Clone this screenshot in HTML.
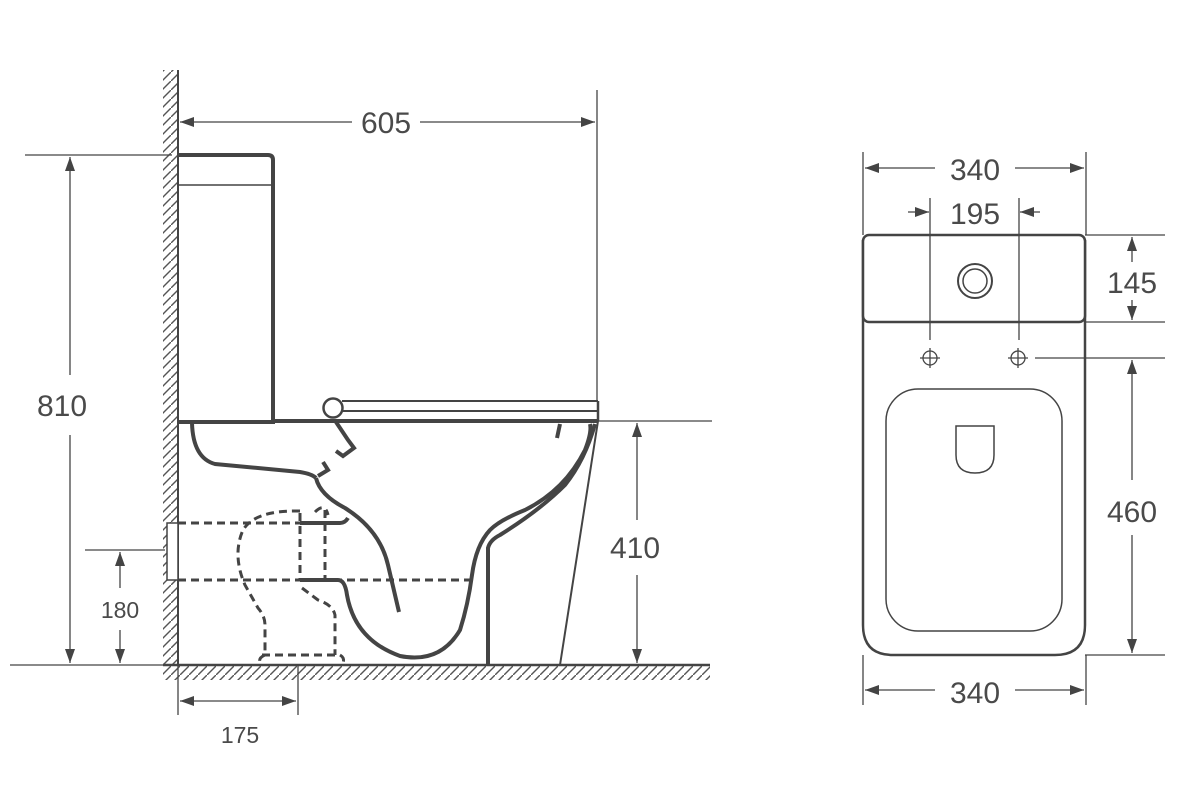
<!DOCTYPE html>
<html><head><meta charset="utf-8"><style>
html,body{margin:0;padding:0;background:#fff;}
svg{display:block;}
text{font-family:"Liberation Sans",sans-serif;fill:#4a4a4a;}
</style></head><body>
<svg width="1200" height="800" viewBox="0 0 1200 800" xmlns="http://www.w3.org/2000/svg">
<defs>
<pattern id="hatch" width="9" height="9" patternUnits="userSpaceOnUse">
<path d="M-1,10 L10,-1" stroke="#555" stroke-width="1.4"/>
</pattern>
<marker id="ar" viewBox="0 0 14 10" refX="14" refY="5" markerWidth="14" markerHeight="10" orient="auto" markerUnits="userSpaceOnUse">
<path d="M0,0 L14,5 L0,10 z" fill="#444"/>
</marker>
<marker id="al" viewBox="0 0 14 10" refX="0" refY="5" markerWidth="14" markerHeight="10" orient="auto" markerUnits="userSpaceOnUse">
<path d="M14,0 L0,5 L14,10 z" fill="#444"/>
</marker>
</defs>
<g stroke="#444" fill="none">
<!-- wall & floor hatch -->
<rect x="163" y="70" width="14" height="595" fill="url(#hatch)" stroke="none"/>
<rect x="163" y="665" width="547" height="15" fill="url(#hatch)" stroke="none"/>
<line x1="178" y1="70" x2="178" y2="665" stroke-width="2"/>
<line x1="163" y1="665" x2="710" y2="665" stroke-width="2.5"/>
<!-- pipe stub in wall -->
<rect x="167" y="523" width="11" height="57" fill="#fff" stroke-width="1.5"/>

<!-- tank -->
<path d="M178,155 L268,155 Q273,155 273,160 L273,422" stroke-width="4"/>
<line x1="178" y1="185" x2="272" y2="185" stroke-width="1.5"/>
<line x1="178" y1="422" x2="275" y2="422" stroke-width="4"/>
<!-- bowl rim line -->
<line x1="275" y1="421" x2="598" y2="421" stroke-width="4"/>
<line x1="598" y1="421" x2="712" y2="421" stroke-width="1.3"/>
<!-- seat -->
<circle cx="333" cy="408" r="9.5" stroke-width="2.5"/>
<line x1="342" y1="401" x2="598" y2="401" stroke-width="2"/>
<line x1="342" y1="411" x2="598" y2="411" stroke-width="2"/>
<line x1="598" y1="401" x2="598" y2="421" stroke-width="2.5"/>
<!-- hinge hook -->
<path d="M336,422 L348,440 L354,448 L343,456 L336,451" stroke-width="4"/>
<path d="M323,462 L328,470 L318,476" stroke-width="4"/>
<!-- connector tank to bowl -->
<path d="M192,423 Q193,458 215,464 L300,472 Q312,474 316,478" stroke-width="4"/>
<!-- flush channel -->
<path d="M316,478 Q320,495 345,508 Q380,530 388,565 L399,612" stroke-width="4"/>
<!-- trap -->
<path d="M300,580 L338,580 Q345,580 347,595 Q355,640 400,656 Q440,664 460,630 Q468,605 472,575 Q476,545 490,530 Q500,520 525,510 Q565,490 585,450 Q592,432 590,424" stroke-width="4"/>
<!-- second inner line & foot -->
<path d="M488,665 L488,548 Q490,540 500,535 Q540,510 565,485 Q585,460 595,424" stroke-width="4"/>
<path d="M560,424 L557,438" stroke-width="4"/>
<!-- right outer -->
<line x1="598" y1="421" x2="560" y2="665" stroke-width="2"/>
<!-- pipe in bowl top piece -->
<path d="M300,523 L340,523 Q345,523 348,518" stroke-width="4"/>

<!-- dashed hidden lines -->
<g stroke-dasharray="8,5" stroke-width="3">
<line x1="178" y1="523" x2="300" y2="523"/>
<line x1="178" y1="580" x2="470" y2="580"/>
<path d="M300,511 Q255,510 243,530 Q232,555 245,585 L258,608 Q265,616 265,625 L265,655 Q258,658 260,663"/>
<path d="M262,655 L340,655 Q345,658 343,663"/>
<path d="M300,513 L300,580 M325,510 L325,580"/>
<path d="M315,512 Q325,502 328,515"/>
<path d="M302,588 L318,600 Q333,605 335,615 L335,655"/>
</g>

<!-- dimension lines left view -->
<g stroke-width="1.3">
<line x1="597" y1="90" x2="597" y2="401"/>
<line x1="180" y1="122" x2="352" y2="122" marker-start="url(#al)"/>
<line x1="420" y1="122" x2="595" y2="122" marker-end="url(#ar)"/>
<line x1="25" y1="155" x2="172" y2="155"/>
<line x1="70" y1="157" x2="70" y2="375" marker-start="url(#al)"/>
<line x1="70" y1="435" x2="70" y2="663" marker-end="url(#ar)"/>
<line x1="85" y1="550" x2="165" y2="550"/>
<line x1="10" y1="665" x2="163" y2="665"/>
<line x1="120" y1="552" x2="120" y2="588" marker-start="url(#al)"/>
<line x1="120" y1="630" x2="120" y2="663" marker-end="url(#ar)"/>
<line x1="178" y1="665" x2="178" y2="715"/>
<line x1="298" y1="665" x2="298" y2="715"/>
<line x1="180" y1="701" x2="296" y2="701" marker-start="url(#al)" marker-end="url(#ar)"/>
<line x1="637" y1="423" x2="637" y2="520" marker-start="url(#al)"/>
<line x1="637" y1="575" x2="637" y2="663" marker-end="url(#ar)"/>
</g>

<!-- right view -->
<path d="M863,240 L863,625 Q863,655 893,655 L1055,655 Q1085,655 1085,625 L1085,240" stroke-width="2.5"/>
<rect x="863" y="235" width="222" height="87" rx="6" stroke-width="2.5" fill="#fff"/>
<circle cx="975" cy="281" r="17" stroke-width="2"/>
<circle cx="975" cy="281" r="12" stroke-width="1.5"/>
<rect x="886" y="389" width="176" height="242" rx="32" stroke-width="1.5"/>
<path d="M956,426 L994,426 L994,455 Q994,473 975,473 Q956,473 956,455 Z" stroke-width="1.5"/>
<g stroke-width="1.3">
<circle cx="930" cy="358" r="7"/><line x1="920" y1="358" x2="940" y2="358"/><line x1="930" y1="348" x2="930" y2="368"/>
<circle cx="1018" cy="358" r="7"/><line x1="1008" y1="358" x2="1028" y2="358"/><line x1="1018" y1="348" x2="1018" y2="368"/>
<line x1="930" y1="198" x2="930" y2="340"/>
<line x1="1019" y1="198" x2="1019" y2="340"/>
<line x1="908" y1="212" x2="929" y2="212" marker-end="url(#ar)"/>
<line x1="1040" y1="212" x2="1020" y2="212" marker-end="url(#ar)"/>
<line x1="863" y1="152" x2="863" y2="235"/>
<line x1="1086" y1="152" x2="1086" y2="235"/>
<line x1="865" y1="168" x2="935" y2="168" marker-start="url(#al)"/>
<line x1="1015" y1="168" x2="1084" y2="168" marker-end="url(#ar)"/>
<line x1="1085" y1="235" x2="1165" y2="235"/>
<line x1="1085" y1="322" x2="1165" y2="322"/>
<line x1="1132" y1="237" x2="1132" y2="262" marker-start="url(#al)"/>
<line x1="1132" y1="300" x2="1132" y2="320" marker-end="url(#ar)"/>
<line x1="1035" y1="358" x2="1165" y2="358"/>
<line x1="1085" y1="655" x2="1165" y2="655"/>
<line x1="1132" y1="360" x2="1132" y2="480" marker-start="url(#al)"/>
<line x1="1132" y1="535" x2="1132" y2="653" marker-end="url(#ar)"/>
<line x1="863" y1="655" x2="863" y2="705"/>
<line x1="1086" y1="655" x2="1086" y2="705"/>
<line x1="865" y1="690" x2="935" y2="690" marker-start="url(#al)"/>
<line x1="1015" y1="690" x2="1084" y2="690" marker-end="url(#ar)"/>
</g>
</g>

<g font-size="30" text-anchor="middle">
<text x="386" y="133">605</text>
<text x="62" y="416">810</text>
<text x="635" y="558">410</text>
<text x="975" y="180">340</text>
<text x="975" y="224">195</text>
<text x="1132" y="293">145</text>
<text x="1132" y="522">460</text>
<text x="975" y="703">340</text>
</g>
<g font-size="23" text-anchor="middle">
<text x="120" y="618">180</text>
<text x="240" y="743">175</text>
</g>
</svg>
</body></html>
